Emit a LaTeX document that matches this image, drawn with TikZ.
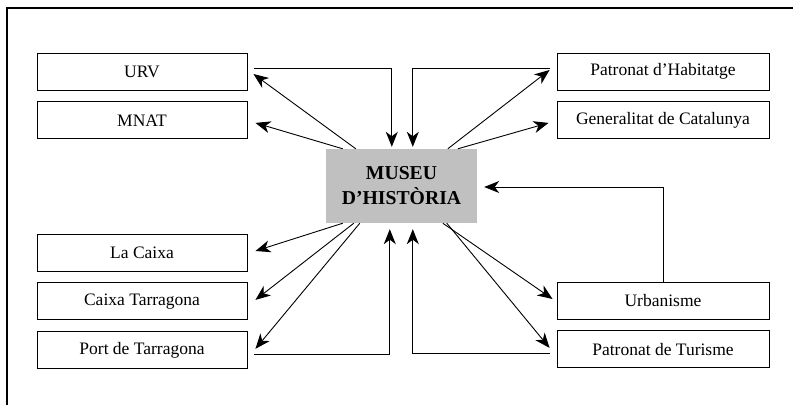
\documentclass[tikz,border=0pt]{standalone}
\usepackage{fontspec}
\setmainfont{Liberation Serif}
\usepackage{tikz}
\usetikzlibrary{arrows.meta, positioning, calc}
\definecolor{MuseuGray}{RGB}{192, 192, 192}

\begin{document}
\begin{tikzpicture}[x=1pt, y=-1pt,
    caixa/.style={draw, line width=0.9pt, minimum width=210pt, minimum height=37pt, inner sep=0pt, font=\fontsize{17.5}{20}\selectfont},
    fletxa/.style={line width=0.9pt, -{Stealth[length=15pt, width=12pt, inset=4.5pt]}}]
    \useasboundingbox (0,0) rectangle (793,405);
    % marc
    \draw[line width=1.3pt] (7,405) -- (7,8) -- (793,8);

    % museu
    \node[fill=MuseuGray, minimum width=151pt, minimum height=74pt, inner sep=0pt, align=center,
          font=\fontsize{19.7}{25}\selectfont\bfseries] (museu) at (401.5,186) {MUSEU\\D'HISTÒRIA};

    % esquerra
    \node[caixa] (urv) at (142,71.5) {URV};
    \node[caixa, below=11pt of urv] (mnat) {MNAT};
    \node[caixa] (lacaixa) at (142,252.5) {La Caixa};
    \node[caixa, below=11pt of lacaixa] (caixat) {Caixa Tarragona};
    \node[caixa, below=11pt of caixat] (port) {Port de Tarragona};

    % dreta
    \node[caixa, minimum width=212pt] (habitatge) at (663,71.5) {Patronat d'Habitatge};
    \node[caixa, minimum width=212pt, below=11pt of habitatge] (generalitat) {Generalitat de Catalunya};
    \node[caixa, minimum width=212pt] (urbanisme) at (663,300.5) {Urbanisme};
    \node[caixa, minimum width=212pt, below=11pt of urbanisme] (turisme) {Patronat de Turisme};

    % fletxes de dalt
    \draw[fletxa] ($(museu.north west)+(30,0)$) -- ($(urv.east)+(6,2.5)$);
    \draw[fletxa] ($(museu.north west)+(17,0)$) -- ($(mnat.east)+(8,2.5)$);
    \draw[fletxa] ($(urv.east)+(7,-3.5)$) -| ($(museu.north west)+(66,-2)$);
    \draw[fletxa] ($(habitatge.west)+(-7,-3.5)$) -| ($(museu.north west)+(87,-2)$);
    \draw[fletxa] ($(museu.north west)+(122,0)$) -- ($(habitatge.west)+(-7,-1.5)$);
    \draw[fletxa] ($(museu.north west)+(132,0)$) -- ($(generalitat.west)+(-8,2.5)$);

    % urbanisme
    \draw[fletxa] (urbanisme.north) |- ($(museu.east)+(7,1)$);

    % fletxes de baix
    \draw[fletxa] ($(museu.south west)+(17,0)$) -- ($(lacaixa.east)+(8,-1.5)$);
    \draw[fletxa] ($(museu.south west)+(28,0)$) -- ($(caixat.east)+(8,-1.5)$);
    \draw[fletxa] ($(museu.south west)+(34,0)$) -- ($(port.east)+(8,-1.5)$);
    \draw[fletxa] ($(port.east)+(7,4.5)$) -| ($(museu.south west)+(64,6)$);
    \draw[fletxa] ($(turisme.west)+(-7,4.5)$) -| ($(museu.south west)+(87,6)$);
    \draw[fletxa] ($(museu.south west)+(117,0)$) -- ($(urbanisme.west)+(-4,-1.5)$);
    \draw[fletxa] ($(museu.south west)+(121,0)$) -- ($(turisme.west)+(-7,-1.5)$);
\end{tikzpicture}
\end{document}
